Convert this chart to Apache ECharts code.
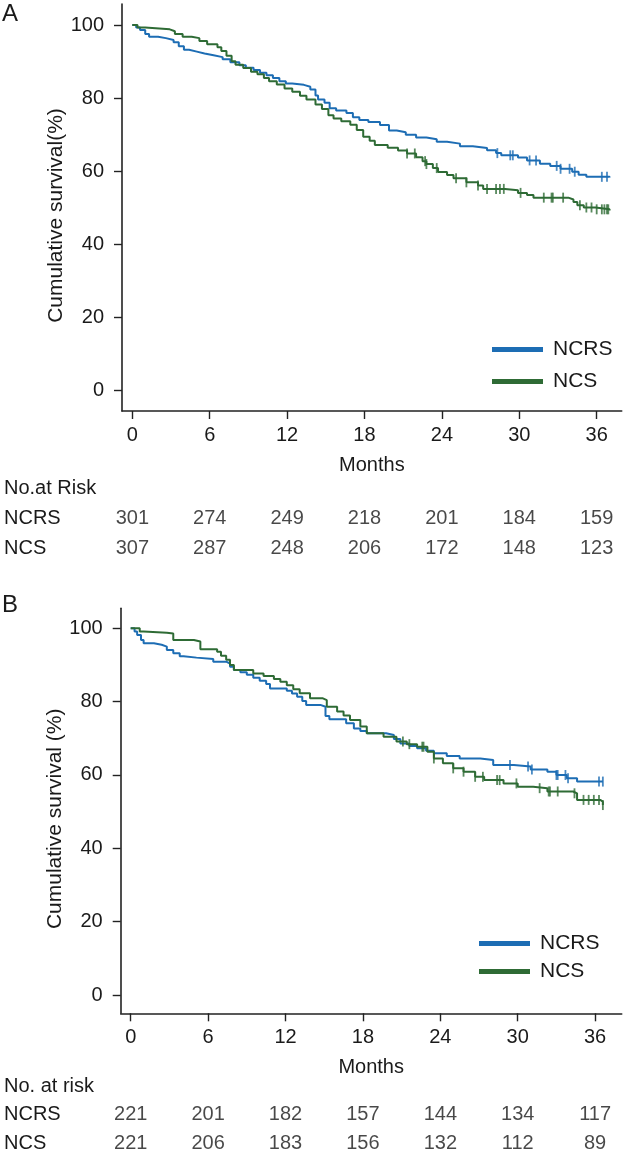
<!DOCTYPE html>
<html>
<head>
<meta charset="utf-8">
<script src="https://cdn.jsdelivr.net/npm/echarts@6/dist/echarts.min.js"></script>
<style>
html,body{margin:0;padding:0;background:#fff;}
#chart{width:633px;height:1159px;}
</style>
</head>
<body>
<div id="chart"></div>
<script>
// ---------- data ----------
const monthTicks = [0, 6, 12, 18, 24, 30, 36];
const survTicks = [0, 20, 40, 60, 80, 100];
const groups = ['NCRS', 'NCS'];

// Panel A: numbers at risk
const riskA_NCRS = [301, 274, 249, 218, 201, 184, 159];
const riskA_NCS  = [307, 287, 248, 206, 172, 148, 123];
// Panel B: numbers at risk
const riskB_NCRS = [221, 201, 182, 157, 144, 134, 117];
const riskB_NCS  = [221, 206, 183, 156, 132, 112, 89];

// Panel A Kaplan-Meier steps [month, survival %]
const kmA_NCRS = [[0,100],[0.3,99.3],[0.6,98.6],[1.0,97.5],[1.3,96.8],[2.0,96.4],[2.6,95.9],[3.2,95.3],[3.6,94.2],[4.0,93.2],[4.4,92.7],[5.0,92.2],[5.6,91.7],[6.3,91.2],[7.0,90.6],[7.6,89.8],[8.3,89.0],[8.8,88.3],[9.4,87.7],[9.9,86.9],[10.4,86.2],[10.9,85.5],[11.4,84.6],[11.9,84.0],[12.4,83.6],[13.3,83.1],[13.8,82.3],[14.2,80.7],[14.4,79.6],[14.9,78.7],[15.3,77.2],[15.8,76.6],[16.6,75.9],[17.1,74.7],[17.6,74.0],[18.3,73.4],[19.2,72.6],[19.9,71.1],[20.5,70.6],[21.2,69.9],[22.0,69.2],[22.8,68.7],[23.6,68.0],[24.4,67.5],[25.4,66.8],[26.4,66.3],[27.5,65.7],[28.2,64.9],[28.6,64.3],[29.9,63.7],[30.6,62.9],[31.6,62.0],[32.4,61.4],[33.2,60.6],[34.1,59.8],[34.6,59.0],[35.2,58.4],[37.0,58.2]];
const kmA_NCS = [[0,100],[0.4,99.3],[1.0,98.8],[2.9,98.3],[3.3,97.5],[3.9,96.8],[4.6,96.4],[5.2,95.6],[5.8,94.7],[6.6,93.9],[6.9,92.9],[7.3,91.6],[7.7,90.1],[8.0,89.1],[8.6,88.2],[9.2,87.2],[9.7,86.5],[10.2,85.5],[10.6,84.6],[11.2,83.7],[11.8,82.6],[12.4,81.7],[13.0,80.6],[13.5,79.6],[14.2,78.2],[14.7,77.0],[15.2,75.3],[15.6,74.4],[16.2,73.6],[16.9,72.7],[17.4,71.2],[17.9,69.4],[18.4,68.3],[18.8,67.1],[19.8,66.4],[20.6,65.6],[21.3,64.8],[22.0,63.8],[22.5,62.7],[22.8,61.9],[23.3,60.8],[23.7,59.7],[24.4,58.9],[24.9,58.0],[25.9,56.9],[26.8,56.0],[27.2,55.1],[28.9,54.7],[29.9,54.0],[30.6,53.4],[31.1,52.7],[33.8,52.2],[34.2,51.5],[34.5,50.6],[35.0,50.0],[35.9,49.5],[37.0,49.2]];
const censA_NCRS = [28.3,29.3,29.5,30.8,31.3,32.9,33.2,33.9,34.3,36.4,36.8];
const censA_NCS = [21.3,21.9,22.7,22.8,23.6,25.1,25.9,26.8,27.5,28.2,28.5,28.8,30.1,31.9,32.5,32.6,33.4,34.7,35.2,35.6,36.0,36.4,36.6,36.8,36.9];

// Panel B Kaplan-Meier steps [month, survival %]
const kmB_NCRS = [[0,100],[0.3,99.1],[0.5,98.2],[0.8,96.8],[1.0,95.9],[1.8,95.5],[2.4,95.0],[2.8,94.1],[3.3,93.2],[3.8,92.4],[4.1,92.0],[5.1,91.6],[6.4,90.9],[7.4,90.4],[7.7,89.5],[8.0,88.6],[8.5,88.0],[9.0,87.3],[9.5,86.5],[10.0,85.7],[10.5,84.8],[10.8,83.6],[12.1,83.0],[12.5,82.2],[12.9,81.3],[13.3,80.2],[13.6,79.1],[14.7,78.6],[15.1,76.1],[15.4,75.2],[16.7,74.1],[17.3,72.7],[17.8,72.0],[18.3,71.4],[19.8,70.9],[20.4,69.8],[20.9,68.6],[21.6,67.9],[22.2,67.3],[22.9,66.6],[23.5,65.9],[24.5,65.2],[25.5,64.5],[27.1,64.1],[28.1,62.7],[29.7,62.3],[31.0,61.5],[32.3,60.9],[33.0,60.0],[33.8,59.1],[34.6,58.2],[36.6,58.2]];
const kmB_NCS = [[0,100],[0.7,99.1],[1.0,98.8],[2.8,98.6],[3.3,96.8],[4.9,96.4],[5.4,94.3],[6.7,93.6],[7.0,92.5],[7.4,91.4],[7.7,90.0],[8.0,88.6],[9.5,87.7],[10.3,87.0],[11.1,86.2],[11.6,85.4],[12.1,84.5],[12.6,83.4],[13.1,82.3],[13.9,80.9],[14.9,80.4],[15.2,78.6],[16.0,77.3],[16.5,76.2],[17.0,75.0],[17.8,73.2],[18.3,71.4],[19.6,70.4],[20.6,69.1],[21.4,68.4],[22.2,67.7],[23.0,66.3],[23.5,64.5],[24.2,63.2],[25.0,61.8],[25.8,60.9],[26.7,59.5],[27.4,58.6],[28.9,57.7],[30.0,56.8],[31.2,56.4],[32.3,55.5],[34.3,55.0],[34.6,53.2],[36.4,52.7],[36.6,51.8]];
const censB_NCRS = [29.4,30.8,31.1,33.0,33.1,33.7,33.9,36.3,36.6];
const censB_NCS = [21.1,21.6,22.6,22.7,23.5,25.0,25.8,26.7,27.3,28.4,28.6,29.9,31.7,32.4,32.5,33.1,34.4,35.1,35.5,35.9,36.3,36.6];

// ---------- helpers ----------
const BLUE = '#1d6db4';
const GREEN = '#2e6b35';
const TXT = '#1a1a1a';
const FONT = 'Liberation Sans, Arial, Helvetica, sans-serif';

function valueAt(curve, t) {
  let v = curve[0][1];
  for (const p of curve) { if (p[0] <= t) v = p[1]; else break; }
  return v;
}

function plotX(idx, min, max) {
  return {
    gridIndex: idx, type: 'value', min: min, max: max,
    name: 'Months', nameLocation: 'middle', nameGap: 44,
    nameTextStyle: { fontSize: 20, color: TXT, fontFamily: FONT },
    axisLine: { show: true, onZero: false, lineStyle: { color: '#222', width: 1.6 } },
    axisTick: { show: true, length: 8, customValues: monthTicks, lineStyle: { color: '#222', width: 1.4 } },
    axisLabel: { customValues: monthTicks, fontSize: 20, color: TXT, fontFamily: FONT, margin: 14 },
    splitLine: { show: false }
  };
}
function plotY(idx, min, max, name) {
  return {
    gridIndex: idx, type: 'value', min: min, max: max,
    name: name, nameLocation: 'middle', nameGap: 55, nameRotate: 90, nameMoveOverlap: false,
    nameTextStyle: { fontSize: 21, color: TXT, fontFamily: FONT, padding: [0, 16, 0, 0] },
    axisLine: { show: true, onZero: false, lineStyle: { color: '#222', width: 1.6 } },
    axisTick: { show: true, length: 8, customValues: survTicks, lineStyle: { color: '#222', width: 1.4 } },
    axisLabel: { customValues: survTicks, fontSize: 20, color: TXT, fontFamily: FONT, margin: 18 },
    splitLine: { show: false }
  };
}
function tableX(idx, min, max) {
  return { gridIndex: idx, type: 'value', min: min, max: max, show: false };
}
function tableY(idx, left) {
  return {
    gridIndex: idx, type: 'category', data: groups, inverse: true,
    axisLine: { show: false }, axisTick: { show: false }, splitLine: { show: false },
    axisLabel: { align: 'left', margin: left - 4, fontSize: 20, color: TXT, fontFamily: FONT }
  };
}
function kmLine(name, data, color, ax) {
  return {
    type: 'line', name: name, data: data, step: 'end', xAxisIndex: ax, yAxisIndex: ax,
    showSymbol: false, symbol: 'none', lineStyle: { color: color, width: 2 },
    itemStyle: { color: color }, z: 3, animation: false
  };
}
function censor(name, times, curve, color, ax) {
  return {
    type: 'scatter', name: name, xAxisIndex: ax, yAxisIndex: ax,
    data: times.map(t => [t, valueAt(curve, t)]),
    symbol: 'rect', symbolSize: [1.8, 10], itemStyle: { color: color },
    z: 4, silent: true, animation: false
  };
}
function riskRow(rowName, counts, ax) {
  return {
    type: 'scatter', xAxisIndex: ax, yAxisIndex: ax,
    data: monthTicks.map((m, i) => [m, rowName, counts[i]]),
    symbolSize: 1, itemStyle: { color: 'rgba(0,0,0,0)' },
    label: { show: true, position: 'inside', formatter: p => String(p.value[2]), fontSize: 20, color: TXT, fontFamily: FONT },
    silent: true, animation: false
  };
}

const chart = echarts.init(document.getElementById('chart'), null, { renderer: 'canvas' });
chart.setOption({
  animation: false,
  backgroundColor: '#fff',
  textStyle: { fontFamily: FONT },
  grid: [
    { left: 122, top: 4, width: 499.7, height: 407 },
    { left: 120.7, top: 608.3, width: 501, height: 405 },
    { left: 122, top: 503, width: 499.7, height: 60 },
    { left: 120.7, top: 1099.5, width: 501, height: 58 }
  ],
  xAxis: [plotX(0, -0.8, 37.94), plotX(1, -0.775, 38.06), tableX(2, -0.8, 37.94), tableX(3, -0.775, 38.06)],
  yAxis: [plotY(0, -5.75, 105.75, 'Cumulative survival(%)'), plotY(1, -4.99, 105.45, 'Cumulative survival (%)'), tableY(2, 122), tableY(3, 120.7)],
  legend: [
    { data: groups, orient: 'vertical', left: 492, top: 339, padding: 0, itemWidth: 51, itemHeight: 5, itemGap: 11, icon: 'rect',
      textStyle: { fontSize: 21, color: TXT, fontFamily: FONT, padding: [0, 0, 0, 5], lineHeight: 20 }, selectedMode: false },
    { data: groups, orient: 'vertical', left: 479, top: 933, padding: 0, itemWidth: 51, itemHeight: 5, itemGap: 7, icon: 'rect',
      textStyle: { fontSize: 21, color: TXT, fontFamily: FONT, padding: [0, 0, 0, 5], lineHeight: 20 }, selectedMode: false }
  ],
  graphic: [
    { type: 'text', left: 2, top: 2, style: { text: 'A', font: '24px ' + FONT, fill: TXT } },
    { type: 'text', left: 2, top: 593, style: { text: 'B', font: '24px ' + FONT, fill: TXT } },
    { type: 'text', left: 4, top: 478, style: { text: 'No.at Risk', font: '20px ' + FONT, fill: TXT } },
    { type: 'text', left: 4, top: 1076, style: { text: 'No. at risk', font: '20px ' + FONT, fill: TXT } }
  ],
  series: [
    kmLine('NCRS', kmA_NCRS, BLUE, 0),
    kmLine('NCS', kmA_NCS, GREEN, 0),
    censor('NCRS censored A', censA_NCRS, kmA_NCRS, BLUE, 0),
    censor('NCS censored A', censA_NCS, kmA_NCS, GREEN, 0),
    kmLine('NCRS', kmB_NCRS, BLUE, 1),
    kmLine('NCS', kmB_NCS, GREEN, 1),
    censor('NCRS censored B', censB_NCRS, kmB_NCRS, BLUE, 1),
    censor('NCS censored B', censB_NCS, kmB_NCS, GREEN, 1),
    riskRow('NCRS', riskA_NCRS, 2),
    riskRow('NCS', riskA_NCS, 2),
    riskRow('NCRS', riskB_NCRS, 3),
    riskRow('NCS', riskB_NCS, 3)
  ]
});
</script>
</body>
</html>
